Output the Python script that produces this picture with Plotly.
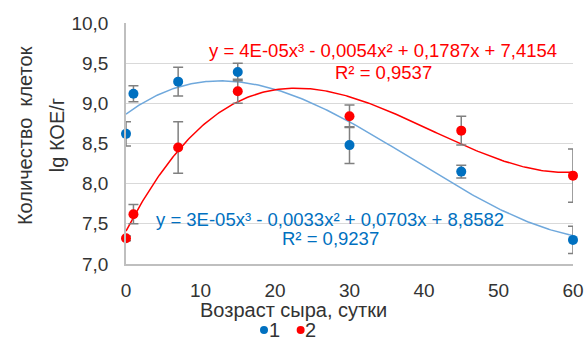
import numpy as np
import plotly.graph_objects as go

# Cheese age, days
days = [0, 1, 7, 15, 30, 45, 60]

# Series 1: lg CFU/g with standard deviations
s1_vals = [8.62, 9.12, 9.27, 9.39, 8.48, 8.15, 7.30]
s1_err = [0.15, 0.10, 0.18, 0.11, 0.23, 0.08, 0.17]

# Series 2: lg CFU/g with standard deviations
s2_vals = [7.32, 7.62, 8.45, 9.15, 8.84, 8.66, 8.10]
s2_err = [0.03, 0.12, 0.32, 0.15, 0.14, 0.18, 0.33]

series_names = ["1", "2"]

eq1 = "y = 3E-05x³ - 0,0033x² + 0,0703x + 8,8582"
r2_1 = "R² = 0,9237"
eq2 = "y = 4E-05x³ - 0,0054x² + 0,1787x + 7,4154"
r2_2 = "R² = 0,9537"

BLUE = "#0070C0"
BLUE_TREND = "#6FA8DC"
RED = "#FF0000"
TEXT = "#333333"
FONT = "Liberation Sans, Arial, sans-serif"

fig = go.Figure()

# cubic trendlines fitted to each series
xs = np.linspace(0, 60, 241)
for vals, col in ((s1_vals, BLUE_TREND), (s2_vals, RED)):
    coef = np.polyfit(days, vals, 3)
    fig.add_trace(go.Scatter(x=xs, y=np.polyval(coef, xs), mode="lines",
                             line=dict(color=col, width=1.5),
                             showlegend=False, hoverinfo="skip"))

colors = [BLUE, RED]
for name, vals, errs, col in zip(series_names, (s1_vals, s2_vals), (s1_err, s2_err), colors):
    fig.add_trace(go.Scatter(
        x=days, y=vals, mode="markers", name=name, showlegend=False,
        marker=dict(color=col, size=10),
        error_y=dict(type="data", array=errs, visible=True,
                     color="#808080", thickness=1.5, width=5),
        cliponaxis=False,
    ))

ann_font = dict(family=FONT, size=18.5)
annotations = [
    dict(x=34.5, y=9.66, xref="x", yref="y", text=eq2, showarrow=False,
         font=dict(ann_font, color=RED)),
    dict(x=34.5, y=9.39, xref="x", yref="y", text=r2_2, showarrow=False,
         font=dict(ann_font, color=RED)),
    dict(x=27.4, y=7.56, xref="x", yref="y", text=eq1, showarrow=False,
         font=dict(ann_font, color=BLUE)),
    dict(x=27.4, y=7.32, xref="x", yref="y", text=r2_1, showarrow=False,
         font=dict(ann_font, color=BLUE)),
    # axis titles
    dict(x=0.374, y=-0.191, xref="paper", yref="paper", text="Возраст сыра, сутки",
         showarrow=False, font=dict(family=FONT, size=20, color=TEXT),
         xanchor="center", yanchor="middle"),
    dict(x=-0.226, y=0.535, xref="paper", yref="paper", text="Количество  клеток",
         showarrow=False, textangle=-90, font=dict(family=FONT, size=20, color=TEXT),
         xanchor="center", yanchor="middle"),
    dict(x=-0.154, y=0.535, xref="paper", yref="paper", text="lg КОЕ/г",
         showarrow=False, textangle=-90, font=dict(family=FONT, size=20, color=TEXT),
         xanchor="center", yanchor="middle"),
]

# compact legend below the axis title: dot + series name
shapes = []
legend_y = -0.274
for i, (name, col) in enumerate(zip(series_names, colors)):
    x0 = 0.3087 + i * 0.082
    shapes.append(dict(type="circle", xref="paper", yref="paper",
                       xsizemode="pixel", ysizemode="pixel",
                       xanchor=x0, yanchor=legend_y,
                       x0=-4, x1=4, y0=-4, y1=4,
                       fillcolor=col, line=dict(width=0)))
    annotations.append(dict(x=x0 + 0.0085, y=legend_y, xref="paper", yref="paper",
                            text=name, showarrow=False, xanchor="left", yanchor="middle",
                            borderpad=0,
                            font=dict(family=FONT, size=20, color=TEXT)))

fig.update_layout(
    width=586, height=341,
    margin=dict(l=126, r=13, t=23, b=77, autoexpand=False),
    paper_bgcolor="white", plot_bgcolor="white",
    separators=", ",
    font=dict(family=FONT, size=19, color=TEXT),
    annotations=annotations,
    shapes=shapes,
    showlegend=False,
    xaxis=dict(range=[0, 60], dtick=10, showgrid=False, zeroline=False,
               showline=True, linecolor="#BFBFBF", linewidth=1.5, automargin=False,
               ticks="", ticklabelstandoff=8, tickfont=dict(size=19)),
    yaxis=dict(range=[7, 10], dtick=0.5, tickformat=".1f", showgrid=True,
               gridcolor="#D9D9D9", gridwidth=1, zeroline=False, automargin=False,
               showline=True, linecolor="#BFBFBF", linewidth=1.5,
               ticks="", ticklabelstandoff=12, tickfont=dict(size=19)),
)

fig.write_html("out.html")
